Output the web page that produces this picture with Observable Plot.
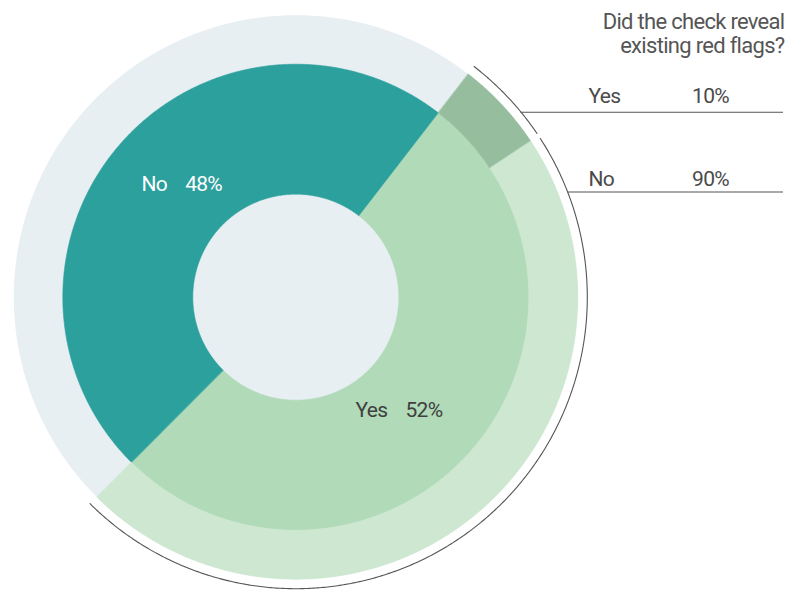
<!DOCTYPE html>
<html>
<head>
<meta charset="utf-8">
<script src="https://cdn.jsdelivr.net/npm/d3@7"></script>
<script src="https://cdn.jsdelivr.net/npm/@observablehq/plot@0.6"></script>
<style>
  html, body { margin: 0; padding: 0; background: #ffffff; }
  #chart svg { display: block; }
</style>
</head>
<body>
<div id="chart"></div>
<script>
// ---------- data ----------
const innerLabels = ["Yes", "No"];
const innerValues = [52, 48];
const outerLabels = ["Yes", "No"];
const outerValues = [10, 90];
const titleText = "Did the check reveal\nexisting red flags?";

// ---------- layout / style ----------
const W = 794, H = 590;
const CX = 295.3, CY = 296.7, R = 282;          // pixel centre and outer radius
const rHole = 103 / R, rInner = 233 / R, rOuter = 1, rArc = 291.5 / R;
const startAngle = 37.7;                         // degrees clockwise from 12 o'clock
const arcGap = 0.6;                              // half gap of bracket arc between outer slices
const labelAngleShift = 4.5, labelRadius = 158 / R, labelDx = -9.5, labelHalfGap = 9;
const legendBaselines = [102, 185];
const legendRuleYs = [111.7, 191.5];
const legendNameX = 588, legendValueX = 728.5, legendRuleEnd = 783;
const colorKeys = ["bg", "Inner Yes", "Inner No", "Outer Yes", "Outer No"];
const colorRange = ["#e8eff3", "#b0dab8", "#2ca09c", "#96be9e", "#cde7d0"];

const px2x = px => (px - CX) / R;
const px2y = py => (CY - py) / R;
const rad = a => a * Math.PI / 180;
const pt = (a, r) => ({x: r * Math.sin(rad(a)), y: r * Math.cos(rad(a))});

function arcPoints(a0, a1, r) {
  const n = Math.max(2, Math.ceil(Math.abs(a1 - a0) / 0.4));
  return d3.range(n + 1).map(i => pt(a0 + (a1 - a0) * i / n, r));
}
function sector(key, a0, a1, r0, r1) {
  const pts = r0 > 0
    ? [...arcPoints(a0, a1, r1), ...arcPoints(a1, a0, r0)]
    : arcPoints(a0, a1, r1);
  return pts.map(p => ({...p, key}));
}

// ---------- slices ----------
const innerTotal = d3.sum(innerValues);
let acc = startAngle;
const innerSlices = innerLabels.map((label, i) => {
  const a0 = acc, a1 = acc + innerValues[i] / innerTotal * 360;
  acc = a1;
  return {label, value: innerValues[i], a0, a1, key: "Inner " + label};
});
const parent = innerSlices[0]; // outer ring breaks down the "Yes" slice
const outerTotal = d3.sum(outerValues);
acc = parent.a0;
const outerSlices = outerLabels.map((label, i) => {
  const a0 = acc, a1 = acc + outerValues[i] / outerTotal * (parent.a1 - parent.a0);
  acc = a1;
  return {label, value: outerValues[i], a0, a1, key: "Outer " + label};
});

const bgPts = sector("bg", 0, 360, 0, rOuter);
const innerPts = innerSlices.flatMap(s => sector(s.key, s.a0, s.a1, rHole, rInner));
const outerPts = outerSlices.flatMap(s => sector(s.key, s.a0, s.a1, rInner, rOuter));
const bracketPts = outerSlices.flatMap((s, i) => {
  const a0 = i === 0 ? s.a0 : s.a0 + arcGap;
  const a1 = i === outerSlices.length - 1 ? s.a1 : s.a1 - arcGap;
  return arcPoints(a0, a1, rArc).map(p => ({...p, key: s.key}));
});

const colorOf = k => colorRange[colorKeys.indexOf(k)];
const labelPoint = s => pt((s.a0 + s.a1) / 2 + labelAngleShift, labelRadius);
const darkSlices = innerSlices.filter(s => d3.hsl(colorOf(s.key)).l < 0.6);
const lightSlices = innerSlices.filter(s => d3.hsl(colorOf(s.key)).l >= 0.6);

const legendRows = outerSlices.map((s, i) => {
  const y = px2y(legendRuleYs[i]);
  return {...s, textY: px2y(legendBaselines[i]), ruleY: y, x1: Math.sqrt(rArc * rArc - y * y)};
});

function labelMarks(data, fill) {
  return [
    Plot.text(data, {x: d => labelPoint(d).x, y: d => labelPoint(d).y, text: "label",
      textAnchor: "end", dx: labelDx - labelHalfGap, fill, fontSize: 21}),
    Plot.text(data, {x: d => labelPoint(d).x, y: d => labelPoint(d).y, text: d => d.value + "%",
      textAnchor: "start", dx: labelDx + labelHalfGap, fill, fontSize: 21})
  ];
}

const chart = Plot.plot({
  width: W,
  height: H,
  margin: 0,
  style: {fontFamily: "Roboto, 'Noto Sans', sans-serif", letterSpacing: "-0.7px", background: "#ffffff"},
  x: {domain: [px2x(0), px2x(W)], range: [0, W], axis: null},
  y: {domain: [px2y(H), px2y(0)], range: [H, 0], axis: null},
  color: {type: "ordinal", domain: colorKeys, range: colorRange},
  marks: [
    Plot.line(bgPts, {x: "x", y: "y", z: "key", fill: "key", stroke: "none", curve: "linear-closed"}),
    Plot.line(innerPts, {x: "x", y: "y", z: "key", fill: "key", stroke: "key", strokeWidth: 0.6, curve: "linear-closed"}),
    Plot.line(outerPts, {x: "x", y: "y", z: "key", fill: "key", stroke: "key", strokeWidth: 0.6, curve: "linear-closed"}),
    Plot.line(bracketPts, {x: "x", y: "y", z: "key", stroke: "#555555", strokeWidth: 1.1}),
    ...labelMarks(darkSlices, "#ffffff"),
    ...labelMarks(lightSlices, "#404040"),
    Plot.ruleY(legendRows, {y: "ruleY", x1: "x1", x2: () => px2x(legendRuleEnd), stroke: "#555555", strokeWidth: 1.1}),
    Plot.text(legendRows, {x: () => px2x(legendNameX), y: "textY", text: "label", textAnchor: "start",
      lineAnchor: "bottom", fontSize: 21, fill: "#4a4a4a"}),
    Plot.text(legendRows, {x: () => px2x(legendValueX), y: "textY", text: d => d.value + "%", textAnchor: "end",
      lineAnchor: "bottom", fontSize: 21, fill: "#4a4a4a"}),
    Plot.text([titleText], {frameAnchor: "top-right", text: d => d, dx: -10, dy: 12.5, lineAnchor: "top",
      textAnchor: "end", fontSize: 22, lineHeight: 1.05, fill: "#555555"})
  ]
});
document.getElementById("chart").appendChild(chart);
</script>
</body>
</html>
